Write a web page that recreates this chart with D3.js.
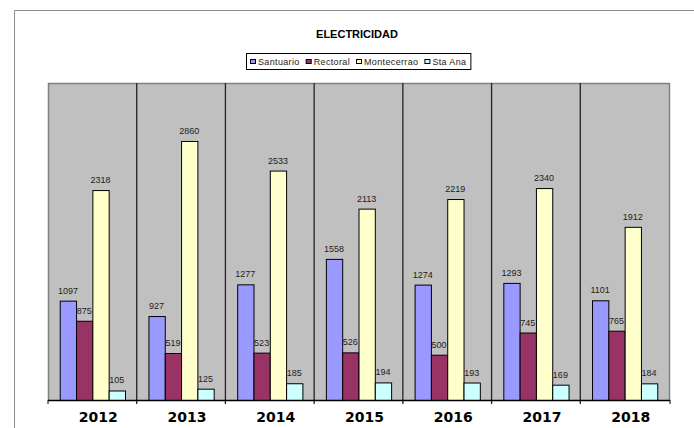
<!DOCTYPE html>
<html>
<head>
<meta charset="utf-8">
<script src="https://cdn.jsdelivr.net/npm/d3@7"></script>
<style>
body{margin:0;background:#fff;}
svg{display:block;}
</style>
</head>
<body>
<script>
var years = ['2012','2013','2014','2015','2016','2017','2018'];
var seriesNames = ['Santuario','Rectoral','Montecerrao','Sta Ana'];
var santuario = [1097,927,1277,1558,1274,1293,1101];
var rectoral = [875,519,523,526,500,745,765];
var montecerrao = [2318,2860,2533,2113,2219,2340,1912];
var staAna = [105,125,185,194,193,169,184];
var colors = ['#9999ff','#993366','#ffffcc','#ccffff'];

var allValues = [santuario,rectoral,montecerrao,staAna];

var W = 694, H = 428;
var svg = d3.select('body').append('svg').attr('width',W).attr('height',H);

// outer frame of the chart object
svg.append('path')
	.attr('d','M14.5,428 V10.5 H694')
	.style('fill','none').style('stroke','#8c8c8c').style('stroke-width',1);

// window.top is reserved, so plot edges get their own names
var plotL = 48, plotR = 669, plotT = 83, plotB = 400;

var x = d3.scaleBand().domain(years).range([plotL,plotR]);
var xs = d3.scaleBand().domain(seriesNames).range([0,x.bandwidth()]).paddingOuter(0.72);
var y = d3.scaleLinear().domain([0,3500]).range([plotB,plotT]);

// plot area
svg.append('rect')
	.attr('x',plotL).attr('y',plotT)
	.attr('width',plotR-plotL).attr('height',plotB-plotT)
	.style('fill','#c0c0c0');
svg.append('path')
	.attr('d','M'+(plotL+0.5)+','+plotB+' V'+(plotT+0.5)+' H'+(plotR+0.5)+' V'+plotB)
	.style('fill','none').style('stroke','#808080').style('stroke-width',1.5);

// separators between years
svg.selectAll('.sep').data(years.slice(1)).enter().append('line')
	.attr('class','sep')
	.attr('x1',function(d){ return x(d); })
	.attr('x2',function(d){ return x(d); })
	.attr('y1',plotT).attr('y2',plotB+4)
	.style('stroke','#222').style('stroke-width',1.3);

// bars
var groups = svg.selectAll('.year').data(years).enter().append('g')
	.attr('class','year')
	.attr('transform',function(d){ return 'translate('+x(d)+',0)'; });

groups.each(function(yr,i){
	var g = d3.select(this);
	for(var s=0;s<seriesNames.length;s++){
		var v = allValues[s][i];
		g.append('rect')
			.attr('x',xs(seriesNames[s])+0.5)
			.attr('y',y(v)+0.5)
			.attr('width',xs.bandwidth())
			.attr('height',plotB-y(v))
			.style('fill',colors[s])
			.style('stroke','#000')
			.style('stroke-width',1);
	}
	for(var s=0;s<seriesNames.length;s++){
		var v = allValues[s][i];
		g.append('text')
			.attr('x',xs(seriesNames[s])+xs.bandwidth()/2)
			.attr('y',y(v)-7)
			.attr('text-anchor','middle')
			.style('font-family','Liberation Sans, Arial, sans-serif')
			.style('font-size','9px')
			.style('fill','#222')
			.text(v);
	}
});

// baseline axis
svg.append('line')
	.attr('x1',plotL).attr('x2',plotR+1)
	.attr('y1',plotB+0.5).attr('y2',plotB+0.5)
	.style('stroke','#000').style('stroke-width',1.3);
svg.selectAll('.tick').data([plotL,plotR+1]).enter().append('line')
	.attr('x1',function(d){ return d; }).attr('x2',function(d){ return d; })
	.attr('y1',plotB).attr('y2',plotB+4)
	.style('stroke','#000');

// year labels
svg.selectAll('.ylab').data(years).enter().append('text')
	.attr('x',function(d){ return x(d)+x.bandwidth()/2+6; })
	.attr('y',422)
	.attr('text-anchor','middle')
	.style('font-family','DejaVu Sans, Verdana, sans-serif')
	.style('font-weight','bold')
	.style('font-size','14px')
	.style('fill','#000')
	.text(function(d){ return d; });

// title
svg.append('text')
	.attr('x',357).attr('y',38)
	.attr('text-anchor','middle')
	.style('font-family','Liberation Sans, Arial, sans-serif')
	.style('font-weight','bold')
	.style('font-size','11px')
	.text('ELECTRICIDAD');

// legend
var leg = svg.append('g');
var legBox = leg.append('rect')
	.attr('y',53.5).attr('height',16)
	.style('fill','#fff').style('stroke','#000').style('stroke-width',1);
var lx = 250;
seriesNames.forEach(function(name,i){
	leg.append('rect')
		.attr('x',lx+0.5).attr('y',59.5)
		.attr('width',5).attr('height',4)
		.style('fill',colors[i]).style('stroke','#000').style('stroke-width',1);
	var t = leg.append('text')
		.attr('x',lx+8).attr('y',65)
		.style('font-family','Liberation Sans, Arial, sans-serif')
		.style('font-size','9px')
		.style('letter-spacing','0.35px')
		.style('fill','#222')
		.text(name);
	lx = lx + 8 + t.node().getComputedTextLength() + 6;
});
legBox.attr('x',246.5).attr('width',lx-246-2);
</script>
</body>
</html>
